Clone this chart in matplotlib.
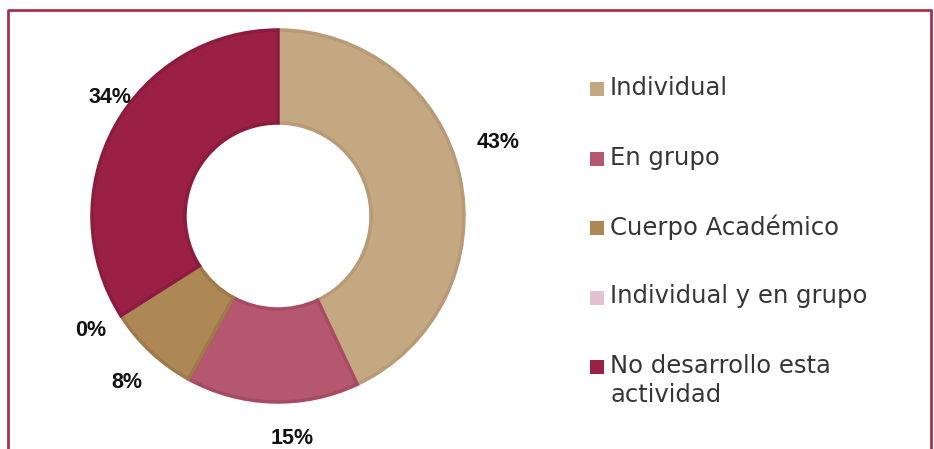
import matplotlib
matplotlib.use("Agg")
import matplotlib.pyplot as plt
from matplotlib.patches import Rectangle
from matplotlib.lines import Line2D

categories = ["Individual", "En grupo", "Cuerpo Académico", "Individual y en grupo",
              "No desarrollo esta\nactividad"]
values = [43, 15, 8, 0, 34]
colors = ["#C4A882", "#B5576F", "#AD8855", "#E3C2CF", "#9B2046"]
edges = ["#B89A76", "#A64B63", "#9E7A4A", "#D8B3C2", "#8C1B3E"]

W, H = 934, 449
fig = plt.figure(figsize=(W / 100, H / 100), dpi=100)
fig.patch.set_facecolor("white")

cx, cy, R = 278, 216, 186
ax = fig.add_axes([(cx - R) / W, (H - cy - R) / H, 2 * R / W, 2 * R / H])
wedges, texts, autotexts = ax.pie(
    values, colors=colors, startangle=90, counterclock=False,
    radius=1.0, autopct=lambda p: f"{p:.0f}%", pctdistance=1.19,
    wedgeprops=dict(width=0.5, linewidth=2.5),
    textprops=dict(fontsize=15.5, fontweight="bold", color="#111111",
                   family="Liberation Sans"))
for w, e in zip(wedges, edges):
    w.set_edgecolor(e)

# small label nudges (layout only, in axis units)
nudges = [(0.02, 0.134), (0.113, -0.005), (0.0, -0.03), (0.0, 0.02), (0.14, 0.065)]
for t, (dx, dy) in zip(autotexts, nudges):
    x, y = t.get_position()
    t.set_position((x + dx, y + dy))

ax.set_xlim(-1, 1)
ax.set_ylim(-1, 1)
ax.set_aspect("equal")
ax.axis("off")

# legend drawn manually
lx, ly0, step = 590, 89, 69.5
for i, (cat, col) in enumerate(zip(categories, colors)):
    y = ly0 + i * step
    fig.patches.append(Rectangle((lx / W, 1 - (y + 7) / H), 14 / W, 14 / H,
                                 transform=fig.transFigure, facecolor=col,
                                 edgecolor="none"))
    fig.text((lx + 20) / W, 1 - (y - 13) / H, cat, ha="left", va="top",
             fontsize=17.5, color="#363636", family="DejaVu Sans",
             linespacing=1.25)

# frame border (bottom cut off)
bc = "#A8324F"
bx0, bx1, by = 8 / W, 931 / W, 1 - 10 / H
fig.lines.append(Line2D([bx0, bx0, bx1, bx1], [0, by, by, 0],
                        transform=fig.transFigure, color=bc, linewidth=2))

fig.savefig("out.png", dpi=100)
